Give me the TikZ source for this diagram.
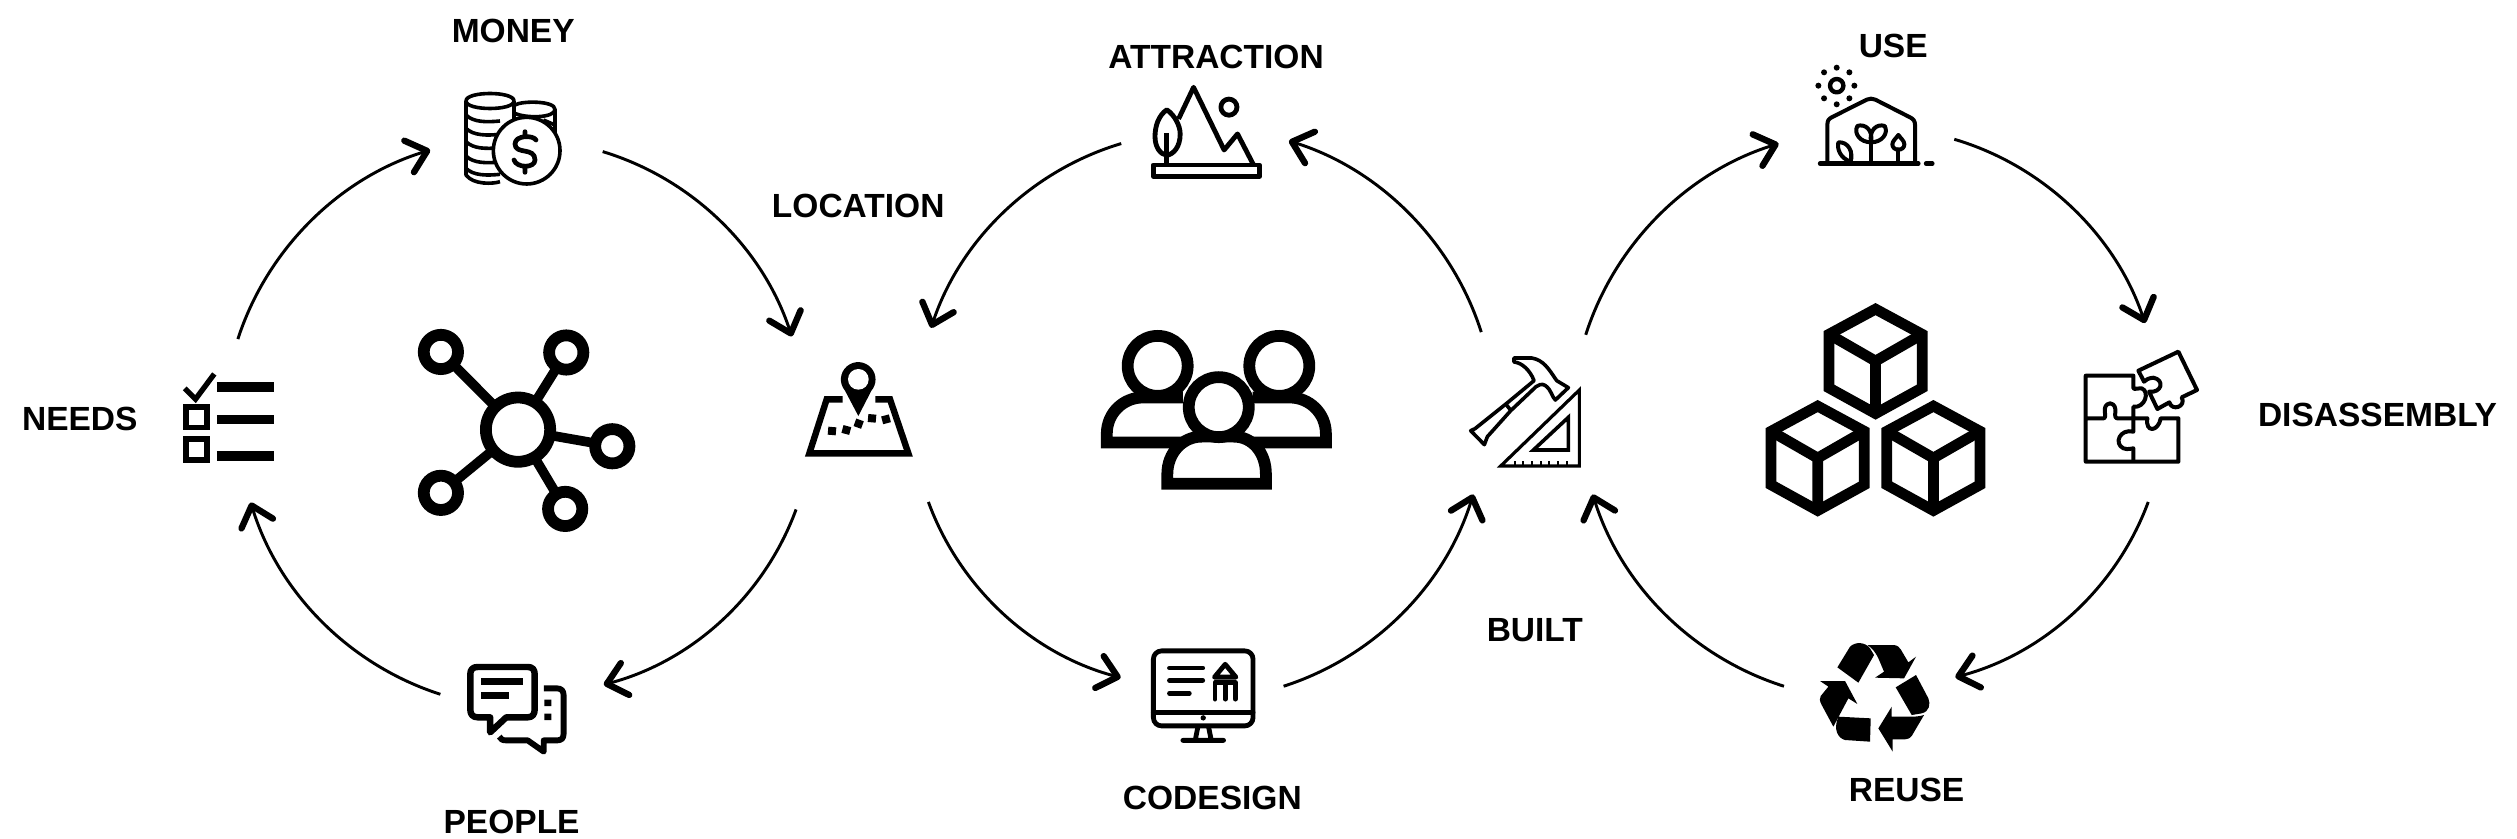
\documentclass[tikz,border=0pt]{standalone}
\usepackage{fontspec}
\setmainfont{Liberation Sans}
\usetikzlibrary{arrows.meta}
\tikzset{
  lz/.style={line width=#1*0.4556pt},
  lc/.style={line width=#1*0.34pt},
  crop/.style 2 args={shift={(#1*1.8667,#2*1.8667)},scale=0.6222},
  lab/.style={font=\bfseries\fontsize{28.5}{30}\selectfont,inner sep=0pt,text=black},
  flow/.style={line width=2.5pt,-{Straight Barb[length=16pt,width=28pt,line width=5.4pt,round=false]},shorten >=0pt},
  cw/.style={flow,bend left=27.5,looseness=.9},
  ccw/.style={flow,bend right=27.5,looseness=.9},
  icon/.style={line join=round,line cap=round}
}
\newcommand{\cubeicon}[2]{%
  \begin{scope}[shift={(#1,#2)}]
    \draw[lz=20,line join=miter] (0,-97)--(87,-50)--(87,50)--(0,98)--(-87,50)--(-87,-50)--cycle;
    \draw[lz=20,line join=miter] (-87,-50)--(0,0)--(87,-50) (0,0)--(0,98);
  \end{scope}}
\newcommand{\dotsq}[3]{\fill[shift={(#1,#2)},rotate=#3] (-12,-12) rectangle (12,12);}
\begin{document}
\begin{tikzpicture}[x=0.4556pt,y=-0.4556pt]
\useasboundingbox (0,0) rectangle (4698.4,1566.1);
% labels
\node[lab] (lmoney) at (958,57) {MONEY};
\node[lab] (lneeds) at (149,783) {NEEDS};
\node[lab] (lpeople) at (955,1535) {PEOPLE};
\node[lab] (llocation) at (1602,385) {LOCATION};
\node[lab] (lattraction) at (2270,107) {ATTRACTION};
\node[lab] (lcodesign) at (2263,1490) {CODESIGN};
\node[lab] (lbuilt) at (2865,1177) {BUILT};
\node[lab] (luse) at (3534,85) {USE};
\node[lab] (ldis) at (4438,775) {DISASSEMBLY};
\node[lab] (lreuse) at (3559,1475) {REUSE};
% connector ends
\coordinate (a1) at (444,633); \coordinate (b1) at (803,280);
\coordinate (a2) at (1125,283); \coordinate (b2) at (1478,628);
\coordinate (a3) at (1486,951); \coordinate (b3) at (1127,1278);
\coordinate (a4) at (822,1296); \coordinate (b4) at (468,938);
\coordinate (a5) at (2093,268); \coordinate (b5) at (1738,612);
\coordinate (a6) at (2765,620); \coordinate (b6) at (2406,263);
\coordinate (a7) at (1733,937); \coordinate (b7) at (2092,1265);
\coordinate (a8) at (2396,1281); \coordinate (b8) at (2750,923);
\coordinate (a9) at (2960,625); \coordinate (b9) at (3320,268);
\coordinate (a10) at (3648,260); \coordinate (b10) at (4004,603);
\coordinate (a11) at (4010,937); \coordinate (b11) at (3650,1264);
\coordinate (a12) at (3330,1281); \coordinate (b12) at (2973,923);
\foreach \i in {1,2,3,4,9,10,11,12} {\draw[cw] (a\i) to (b\i);}
\foreach \i in {5,6,7,8} {\draw[ccw] (a\i) to (b\i);}
% needs
\draw[lz=10] (345,725)--(365,745)--(400,698);
\draw[lz=11] (348,760) rectangle (387,798) (348,820) rectangle (387,858);
\draw[lz=18] (405,722)--(511,722) (405,783)--(511,783) (405,851)--(511,851);
% network
\draw[lz=18] (967,802)--(823,657) (967,802)--(1057,658) (967,802)--(1143,833) (967,802)--(1055,950) (967,802)--(823,920);
\draw[lz=22,fill=white] (967,802) circle[radius=60];
\foreach \p in {(823,657),(1057,658),(1143,833),(1055,950),(823,920)} {\draw[lz=22,fill=white] \p circle[radius=32];}
% chat
\draw[lz=12,line join=round] (945,1339)--(915,1367)--(915,1339)--(892,1339) .. controls (882,1339) and (878,1333) .. (878,1325)--(878,1258) .. controls (878,1250) and (882,1245) .. (892,1245)--(985,1245) .. controls (994,1245) and (998,1250) .. (998,1258)--(998,1325) .. controls (998,1333) and (994,1339) .. (985,1339)--cycle;
\draw[lz=12] (898,1272)--(977,1272) (898,1298)--(950,1298);
\draw[lz=11,line join=round] (1015,1285)--(1040,1285) .. controls (1048,1285) and (1052,1290) .. (1052,1297)--(1052,1370) .. controls (1052,1378) and (1048,1382) .. (1040,1382)--(1015,1382)--(1015,1403)--(985,1382)--(945,1382) .. controls (938,1382) and (934,1380) .. (932,1375);
\fill (1016,1306) rectangle (1029,1318) (1016,1332) rectangle (1029,1344);
% money
\begin{scope}[crop={450}{80},lc=9,line join=round]
  \draw (195,75) .. controls (215,62) and (315,62) .. (315,88) -- (315,175);
  \draw (195,100) .. controls (225,115) and (315,115) .. (315,88);
  \draw (280,120) -- (315,135);
  \draw (48,63) .. controls (48,33) and (192,33) .. (192,63) .. controls (192,93) and (48,93) .. (48,63) -- (48,285) .. controls (70,315) and (130,312) .. (150,305);
  \draw (192,63) -- (192,140);
  \foreach \h in {105,145,185,228,265} {\draw (48,\h) .. controls (70,\h+22) and (110,\h+22) .. (150,\h+18);}
  \draw[fill=white] (230,212) circle[radius=100];
  \draw[line width=4pt,line cap=round] (258,180) .. controls (250,165) and (195,165) .. (195,192) .. controls (195,225) and (255,200) .. (255,240) .. controls (255,265) and (200,265) .. (192,240) (225,155)--(225,170) (225,262)--(225,277);
\end{scope}
% map
\begin{scope}[crop={770}{340}]
  \draw[lc=16,line join=miter] (218,178)--(170,178)--(118,340)--(415,340)--(360,178)--(316,178);
  \fill (265,228)--(225,152) arc[start angle=139.6,end angle=400.4,radius=52]--cycle;
  \fill[white] (265,118) circle[radius=31];
  \dotsq{186}{273}{-5}\dotsq{229}{270}{-15}\dotsq{266}{251}{-20}\dotsq{306}{235}{-5}\dotsq{348}{238}{15}
\end{scope}
% people
\begin{scope}[shift={(1568,0)}]
  \draw[lz=22,fill=white] (593,683) circle[radius=56] (820,683) circle[radius=56];
  \draw[lz=22,line join=miter] (640,826)--(498,826)--(498,810) .. controls (498,770) and (530,742) .. (565,742)--(640,742);
  \draw[lz=22,line join=miter] (770,826)--(907,826)--(907,810) .. controls (907,770) and (875,742) .. (840,742)--(770,742);
  \draw[lz=22,fill=white,line join=miter] (611,903)--(611,885) .. controls (611,845) and (640,815) .. (675,815)--(735,815) .. controls (770,815) and (795,845) .. (795,885)--(795,903)--cycle;
  \draw[lz=22,fill=white] (707,760) circle[radius=56];
  % attraction
  \begin{scope}[lz=9,line join=round]
    \draw (632,222)--(660,163)--(717,280)--(742,250)--(772,308);
    \draw (585,308) rectangle (783,329);
    \draw (726,200) circle[radius=15];
    \draw (610,205) .. controls (595,215) and (588,235) .. (588,255) .. controls (588,275) and (598,288) .. (610,290) .. controls (622,288) and (635,275) .. (635,250) .. controls (635,235) and (625,215) .. (610,205)--cycle;
    \draw (610,248)--(610,305);
  \end{scope}
  % codesign
  \begin{scope}[lz=9,line join=round,line cap=round]
    \draw[rounded corners=7pt] (585,1215) rectangle (771,1355);
    \draw (585,1330)--(771,1330);
    \fill (678,1340) circle[radius=5];
    \draw (668,1357)--(663,1382) (688,1357)--(693,1382) (640,1382)--(716,1382);
    \draw (615,1247)--(677,1247) (615,1270)--(677,1270) (615,1294)--(652,1294);
    \draw (699,1264)--(719,1240)--(739,1264)--cycle;
    \draw[lz=9] (700,1305)--(700,1274)--(738,1274)--(738,1305) (719,1274)--(719,1305);
  \end{scope}
\end{scope}
% hammer and square
\begin{scope}[crop={1450}{340},lc=9,line join=round]
  \draw (62,272)--(75,266)--(170,190)--(252,122) .. controls (240,90) and (215,68) .. (192,66)--(192,54)--(245,54) .. controls (280,60) and (295,85) .. (320,122)--(355,143)--(316,180) .. controls (305,170) and (305,150) .. (285,136) .. controls (275,130) and (265,135) .. (258,140)--(182,212)--(112,290)--(103,314)--cycle;
  \draw (168,193)--(183,212);
  \draw[lc=8,line join=miter] (388,150)--(388,378)--(152,378)--cycle;
  \draw[lc=9,line join=miter] (355,232)--(355,330)--(250,330)--cycle;
  \foreach \x in {195,218,245,272,298,325,352} {\draw[lc=5] (\x,364)--(\x,378);}
\end{scope}
% cubes
\begin{scope}[shift={(3136,0)}]
  \cubeicon{365}{674}\cubeicon{257}{855}\cubeicon{473}{855}
\end{scope}
% greenhouse
\begin{scope}[crop={1810}{55},lc=10,line join=round,line cap=round]
  \draw[lc=11] (80,92) circle[radius=20];
  \foreach \p in {(80,38),(118,52),(133,92),(118,130),(80,148),(42,130),(25,92),(42,52)} {\fill \p circle[radius=9];}
  \draw (52,325)--(52,210) .. controls (52,198) and (55,192) .. (65,187)--(170,134) .. controls (178,130) and (188,130) .. (196,134)--(300,187) .. controls (310,192) and (315,198) .. (315,210)--(315,325);
  \draw[lc=11] (30,326)--(325,326) (348,326)--(367,326);
  \draw (183,235)--(183,325);
  \draw (183,262) .. controls (150,262) and (130,235) .. (142,213) .. controls (165,205) and (190,225) .. (183,262);
  \draw (183,262) .. controls (216,262) and (236,235) .. (224,213) .. controls (201,205) and (176,225) .. (183,262);
  \draw (122,325)--(122,290);
  \draw (122,320) .. controls (90,310) and (80,280) .. (85,262) .. controls (115,260) and (130,290) .. (122,320);
  \draw (265,325)--(265,283);
  \draw (265,240) .. controls (272,250) and (283,258) .. (283,268) .. controls (283,278) and (275,284) .. (265,284) .. controls (255,284) and (247,278) .. (247,268) .. controls (247,258) and (258,250) .. (265,240);
\end{scope}
% puzzle
\begin{scope}[crop={2070}{340},lc=10,line join=round]
  \draw (190,235)--(190,200) .. controls (225,205) and (240,155) .. (215,145) .. controls (205,142) and (195,150) .. (190,145)--(190,107)--(47,107)--(47,365)--(325,365)--(325,235)--(272,235) .. controls (265,275) and (225,280) .. (232,235)--(190,235)--(142,235) .. controls (125,235) and (150,195) .. (120,190) .. controls (90,195) and (115,235) .. (100,235)--(47,235);
  \draw (190,235)--(190,275) .. controls (150,265) and (130,310) .. (160,325) .. controls (175,330) and (185,325) .. (190,325)--(190,365);
  \draw (205,92)--(325,35)--(381,150)--(335,172) .. controls (350,200) and (305,215) .. (298,187)--(262,207)--(237,155) .. controls (275,160) and (285,120) .. (250,113) .. controls (235,115) and (228,118) .. (222,125)--cycle;
\end{scope}
% recycle
\begin{scope}[crop={1810}{630}]
  \fill (82,112)--(120,50) .. controls (135,35) and (165,35) .. (180,55)--(192,75)--(145,158)--cycle;
  \fill (172,45)--(250,45) .. controls (262,45) and (268,52) .. (272,58)--(295,97)--(318,80)--(282,145)--(195,143)--(222,125)--(205,85) .. controls (198,70) and (188,55) .. (172,45)--cycle;
  \fill (257,172)--(318,135)--(355,205) .. controls (362,222) and (358,245) .. (335,250)--(305,255)--cycle;
  \fill (342,255)--(305,318) .. controls (300,325) and (295,327) .. (285,328)--(248,328)--(248,365)--(205,295)--(245,230)--(245,260)--(305,260) .. controls (320,260) and (332,258) .. (342,255)--cycle;
  \fill (85,260)--(182,265)--(180,335)--(105,330) .. controls (85,325) and (68,300) .. (85,260)--cycle;
  \fill (30,153)--(105,153)--(142,222)--(115,205)--(70,290)--(35,225) .. controls (28,212) and (28,205) .. (32,198)--(55,170)--cycle;
\end{scope}
\end{tikzpicture}
\end{document}
